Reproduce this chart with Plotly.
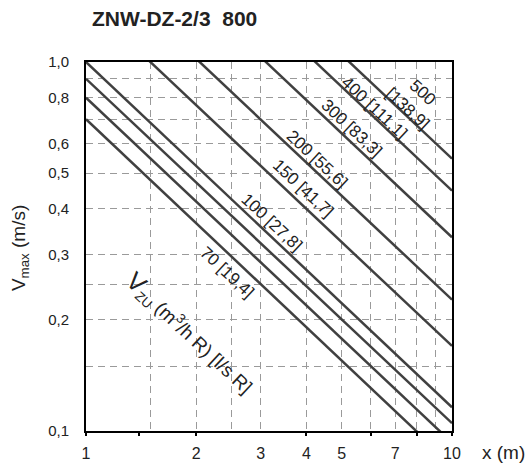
import math
import plotly.graph_objects as go

# ---- data ----
flow_m3h = [70, 80, 90, 100, 150, 200, 300, 400, 500]          # m3/h per outlet
v_at_1m = [0.70, 0.80, 0.90, 1.00, 1.46, 1.95, 2.88, 3.85, 4.70]  # V_max at x = 1 m
v_at_10m = [0.081, 0.093, 0.105, 0.116, 0.170, 0.227, 0.335, 0.448, 0.547]  # at x = 10 m
line_labels = ["70 [19,4]", None, None, "100 [27,8]", "150 [41,7]", "200 [55,6]",
               "300 [83,3]", "400 [111,1]", "500<br>[138,9]"]
x_points = [1, 10]

x_tick_vals = [1, 2, 3, 4, 5, 7, 10]
x_tick_text = ["1", "2", "3", "4", "5", "7", "10"]
x_minor_grid = [1.5, 2.5, 6, 8, 9]
x_tick_marks = [1, 1.4, 2, 4, 6, 8, 10]
y_tick_vals = [0.1, 0.2, 0.3, 0.4, 0.5, 0.6, 0.8, 1.0]
y_tick_text = ["0,1", "0,2", "0,3", "0,4", "0,5", "0,6", "0,8", "1,0"]
y_minor_grid = [0.15, 0.25, 0.7, 0.9]

# label placement (style): x along the line (m) and vertical pixel offset
label_x = [2.43, None, None, 3.22, 3.92, 4.28, 5.33, 6.16, 7.92]
label_dy = [-20, None, None, 15, 17, 13, 15, 10, 23]

NARROW = "Liberation Sans Narrow, Arial Narrow, Liberation Sans, Arial, sans-serif"
SANS = "Liberation Sans, Arial, sans-serif"
LINE_COLOR = "#404040"
GRID_COLOR = "#9a9a9a"

fig = go.Figure()
for q, v1, v10 in zip(flow_m3h, v_at_1m, v_at_10m):
    fig.add_trace(go.Scatter(x=x_points, y=[v1, v10], mode="lines",
                             line=dict(color=LINE_COLOR, width=2.5),
                             name=str(q), showlegend=False, hoverinfo="skip"))

# invisible trace for tick-mark overlay axis
fig.add_trace(go.Scatter(x=[1, 10], y=[0.1, 0.1], xaxis="x2", mode="markers",
                         marker=dict(opacity=0), showlegend=False, hoverinfo="skip"))

annotations = []
for txt, v1, v10, lx, dy in zip(line_labels, v_at_1m, v_at_10m, label_x, label_dy):
    if txt is None:
        continue
    slope = math.log10(v10) - math.log10(v1)
    ly = math.log10(v1) + slope * math.log10(lx)
    annotations.append(dict(x=math.log10(lx), y=ly, xref="x", yref="y",
                            text=txt, showarrow=False, textangle=43,
                            yshift=dy, font=dict(family=NARROW, size=17, color="#222")))

annotations += [
    dict(x=0.011, y=1.119, xref="paper", yref="paper", xanchor="left", yanchor="middle",
         text="<b>ZNW-DZ-2/3\u00a0\u00a0800</b>", showarrow=False,
         font=dict(family=NARROW, size=21, color="#222")),
    dict(x=-0.18, y=0.496, xref="paper", yref="paper", xanchor="center", yanchor="middle",
         text="V<sub>max</sub> (m/s)", textangle=-90, showarrow=False,
         font=dict(family=SANS, size=19, color="#222")),
    dict(x=1.14, y=-0.058, xref="paper", yref="paper", xanchor="center", yanchor="middle",
         text="x (m)", showarrow=False, font=dict(family=SANS, size=19, color="#222")),
    dict(x=0.284, y=0.266, xref="paper", yref="paper", xanchor="center", yanchor="middle",
         text="<span style='font-size:25px'>V</span><sub>ZU</sub> (m<sup>3</sup>/h R) [l/s R]",
         textangle=43, showarrow=False, font=dict(family=SANS, size=19, color="#222")),
]

fig.update_layout(
    width=532, height=468,
    margin=dict(l=86, r=80, t=62, b=37, autoexpand=False),
    paper_bgcolor="white", plot_bgcolor="white",
    showlegend=False,
    annotations=annotations,
    xaxis=dict(type="log", range=[0, 1], tickmode="array", tickvals=x_tick_vals,
               ticktext=x_tick_text, ticks="", showgrid=True, gridcolor=GRID_COLOR,
               griddash="7px,5px", gridwidth=1,
               minor=dict(tickmode="array", tickvals=x_minor_grid, showgrid=True,
                          gridcolor=GRID_COLOR, griddash="7px,5px", gridwidth=1, ticks=""),
               showline=True, linecolor="black", linewidth=2, mirror=True,
               zeroline=False, ticklabelstandoff=7, automargin=False,
               tickfont=dict(family=NARROW, size=16, color="#222")),
    xaxis2=dict(type="log", range=[0, 1], overlaying="x", anchor="y", side="bottom",
                tickmode="array", tickvals=x_tick_marks, ticks="outside", ticklen=4,
                tickwidth=2, tickcolor="black", showticklabels=False, showgrid=False,
                showline=False, zeroline=False, automargin=False),
    yaxis=dict(type="log", range=[-1, 0], tickmode="array", tickvals=y_tick_vals,
               ticktext=y_tick_text, ticks="", showgrid=True, gridcolor=GRID_COLOR,
               griddash="7px,5px", gridwidth=1,
               minor=dict(tickmode="array", tickvals=y_minor_grid, showgrid=True,
                          gridcolor=GRID_COLOR, griddash="7px,5px", gridwidth=1, ticks=""),
               showline=True, linecolor="black", linewidth=2, mirror=True,
               zeroline=False, ticklabelstandoff=12, automargin=False,
               tickfont=dict(family=NARROW, size=15, color="#222")),
)

fig.write_html("out.html")
